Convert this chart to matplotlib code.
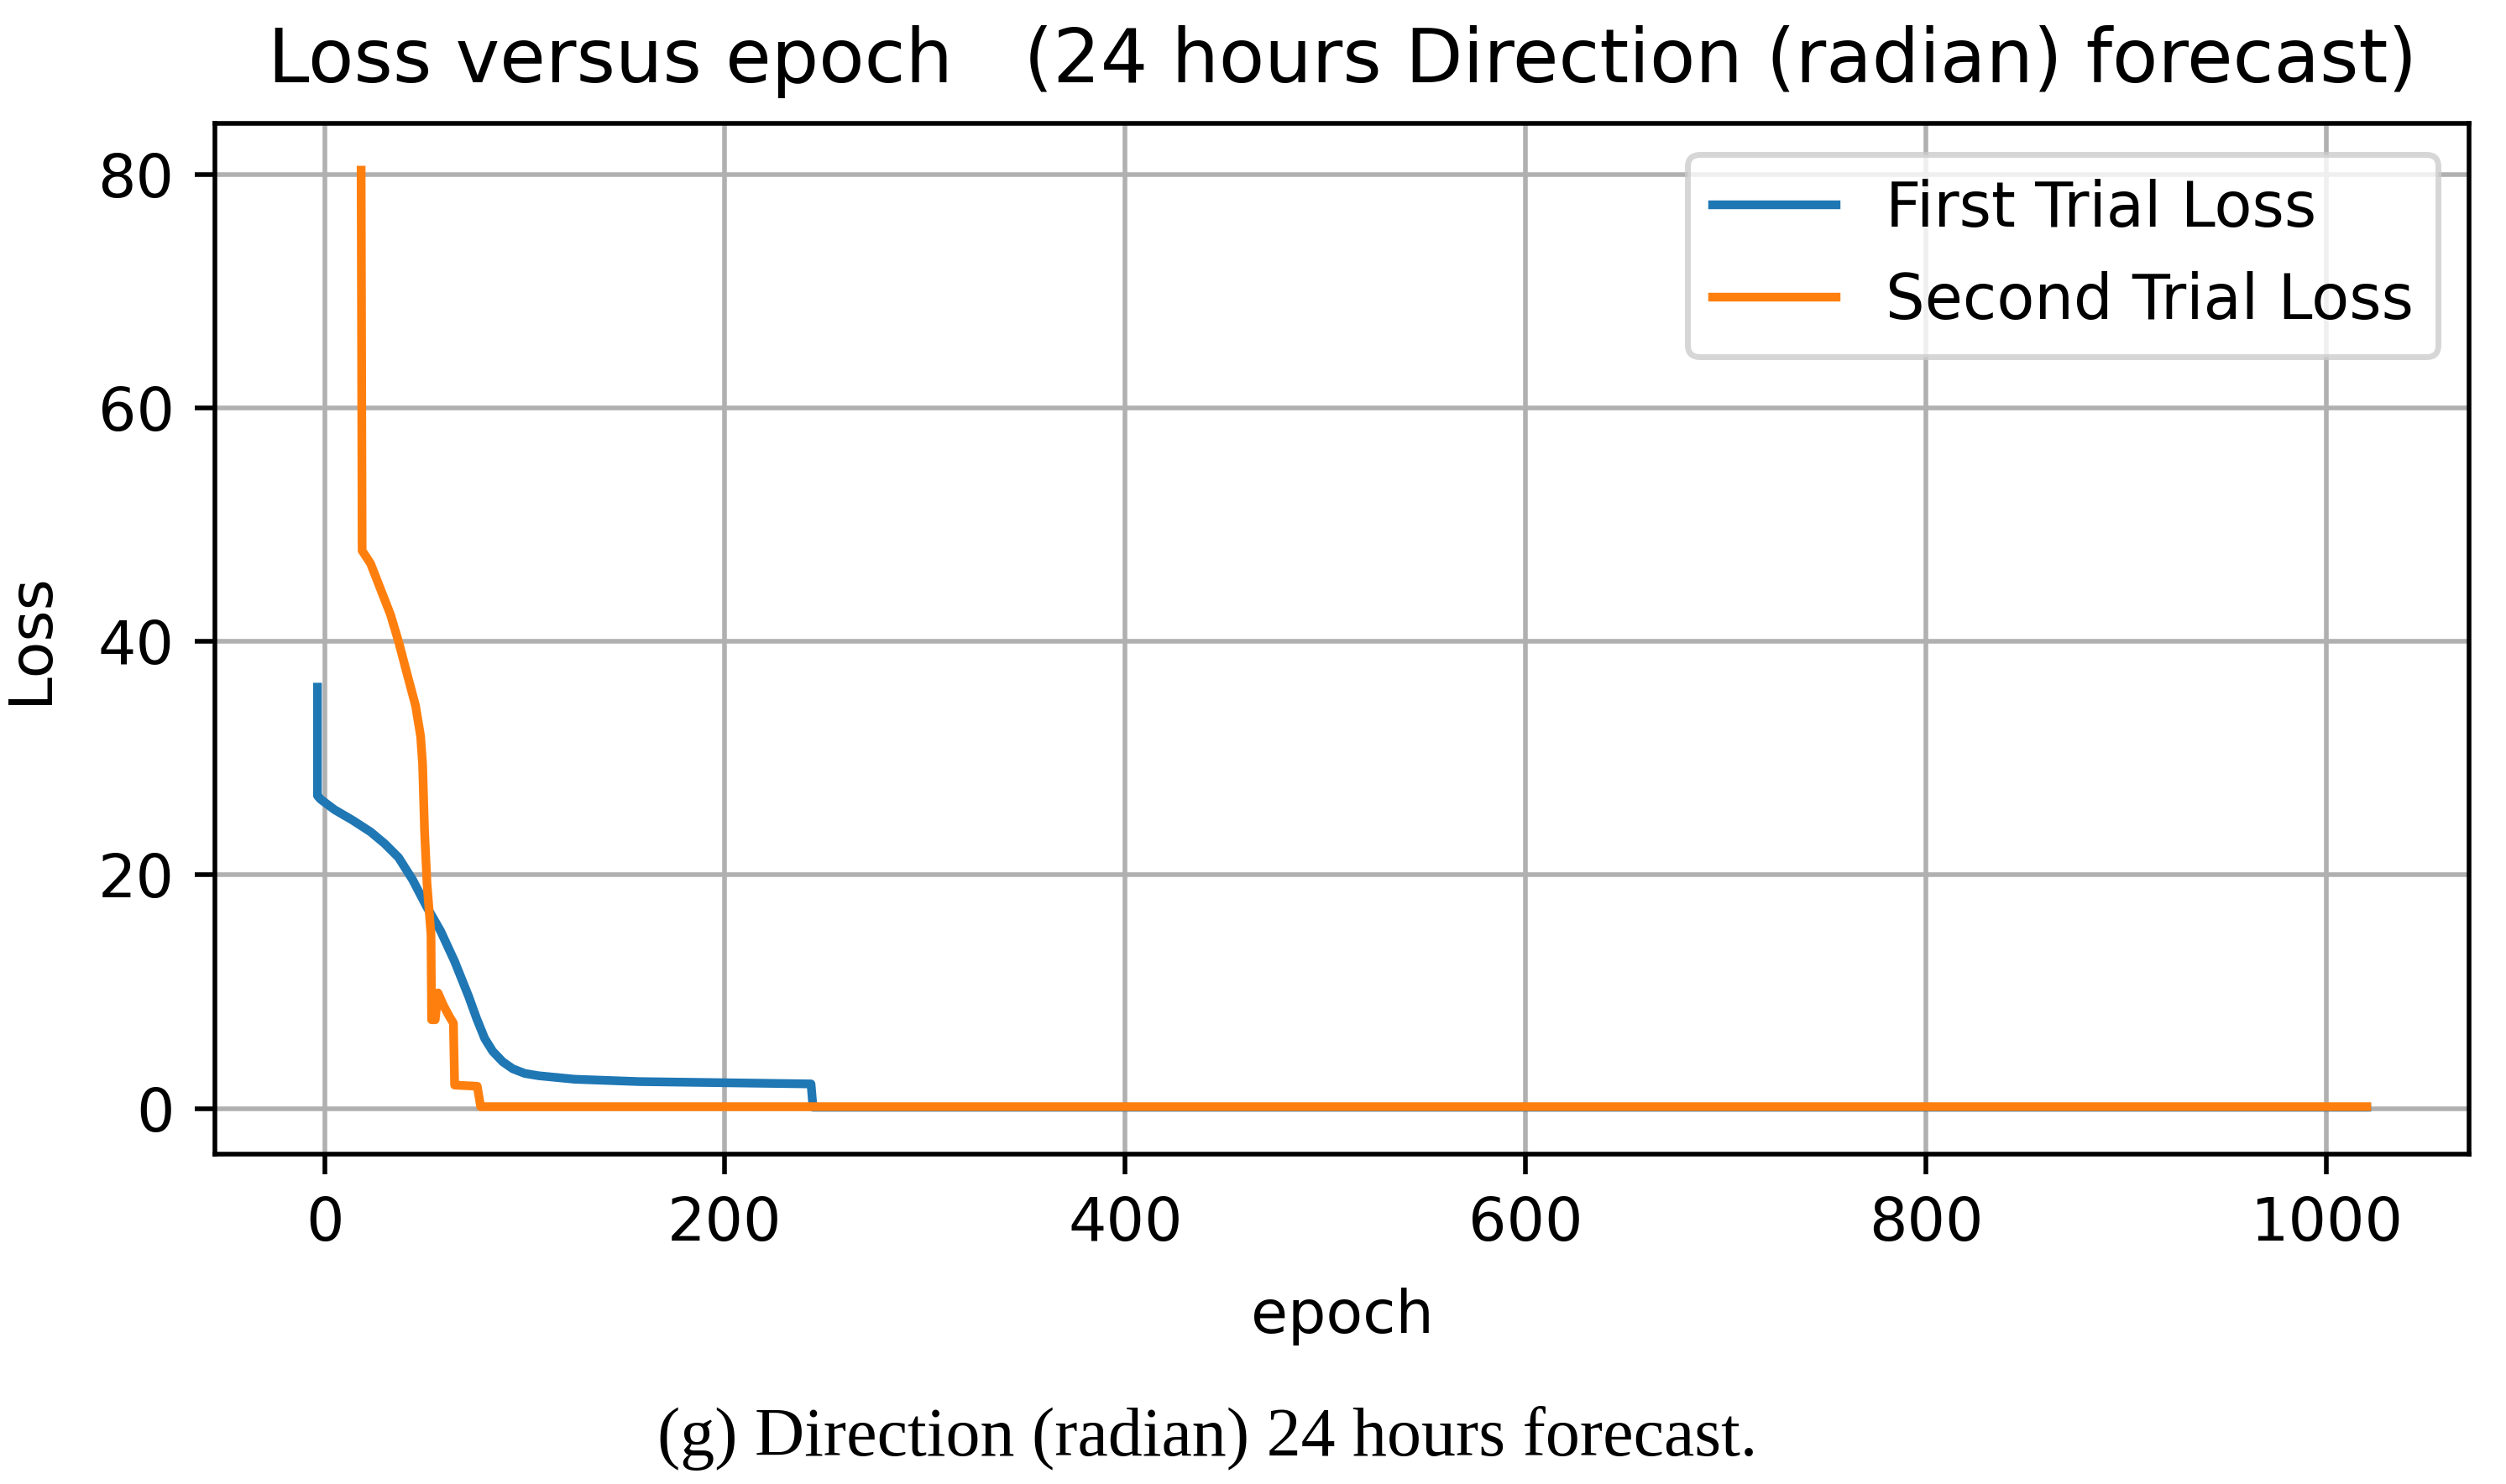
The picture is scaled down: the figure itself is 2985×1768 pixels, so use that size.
import matplotlib
matplotlib.use("Agg")
import matplotlib.pyplot as plt

# loss curves (epoch, loss)
first_epoch = [-3.5, -3.5, -2, 5, 14, 23, 30, 37, 44, 51, 58, 65, 72, 76, 80, 84, 89, 94, 100,
               107, 125, 157, 200, 243, 244, 1020]
first_loss = [36.1, 26.8, 26.5, 25.6, 24.7, 23.7, 22.7, 21.5, 19.6, 17.3, 15.2, 12.6, 9.6, 7.7,
              6.0, 4.9, 4.0, 3.4, 3.0, 2.8, 2.5, 2.3, 2.2, 2.1, 0.1, 0.1]

second_epoch = [18.3, 18.8, 23, 28, 33, 37, 41, 45.5, 48, 49, 50, 51.2, 53.2, 53.5, 55.3, 56.7,
                59.5, 62.3, 64.4, 65, 76.3, 78, 1020]
second_loss = [80.4, 47.8, 46.7, 44.5, 42.3, 40.0, 37.4, 34.5, 31.9, 29.5, 23.7, 19.3, 14.9, 7.6,
               7.6, 9.9, 8.8, 7.9, 7.3, 2.0, 1.9, 0.15, 0.15]

series_names = ['First Trial Loss', 'Second Trial Loss']

DPI = 500
plt.rcParams['font.size'] = 10.3

fig = plt.figure(figsize=(2985 / DPI, 1768 / DPI), dpi=DPI)
ax = fig.add_axes([0.0858, 0.2223, 0.8995, 0.6946])
ax.plot(first_epoch, first_loss, label=series_names[0])
ax.plot(second_epoch, second_loss, label=series_names[1])
ax.set_title('Loss versus epoch   (24 hours Direction (radian) forecast)', fontsize=12.8, pad=7)
ax.set_xlabel('epoch', labelpad=6)
ax.set_ylabel('Loss', labelpad=6.5)
ax.grid(True)
ax.legend(loc='upper right', fontsize=10.6)

fig.text(0.4817, 0.031, '(g) Direction (radian) 24 hours forecast.',
         family='Liberation Serif', fontsize=11.8, ha='center', va='center')

fig.savefig('out.png', dpi=DPI)
